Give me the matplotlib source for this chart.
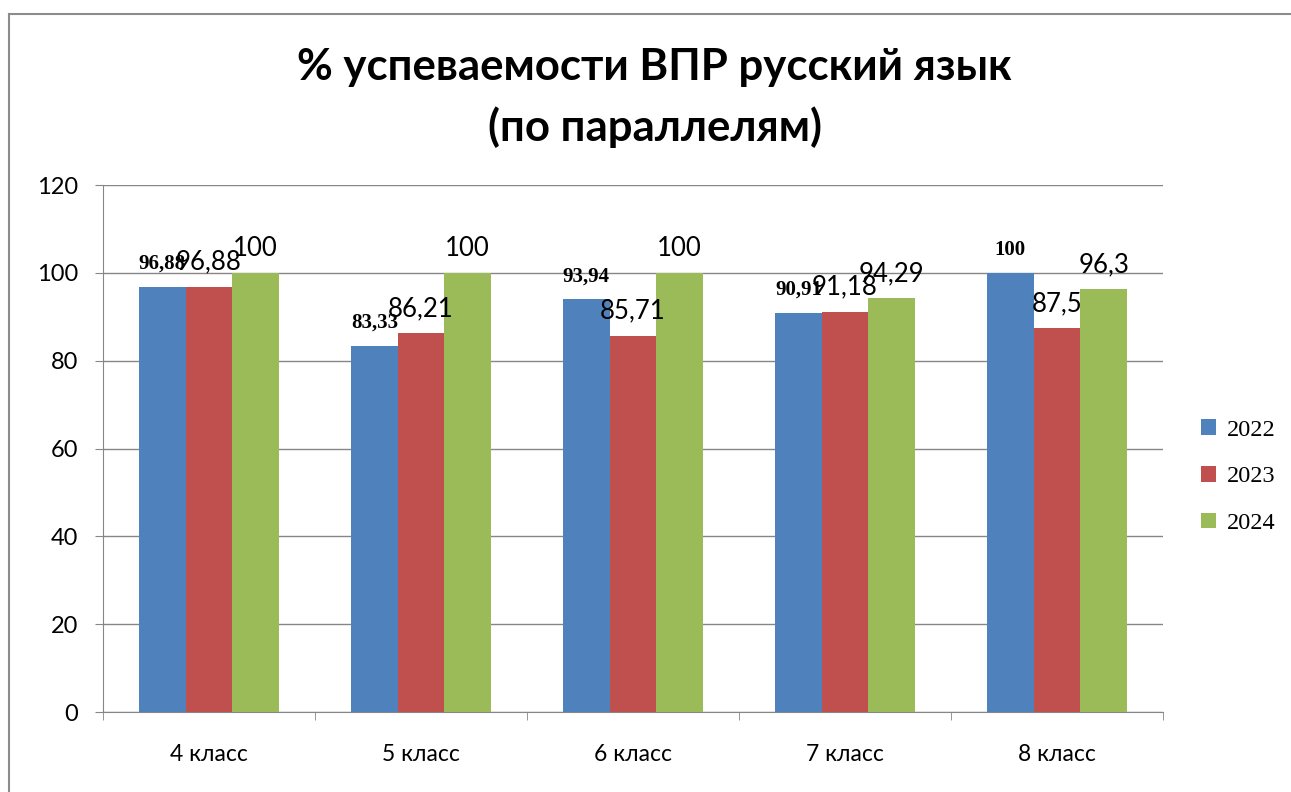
import matplotlib.pyplot as plt
import numpy as np
from matplotlib.lines import Line2D
from matplotlib.patches import Patch

categories = ["4 класс", "5 класс", "6 класс", "7 класс", "8 класс"]
years = ["2022", "2023", "2024"]
v2022 = [96.88, 83.33, 93.94, 90.91, 100]
v2023 = [96.88, 86.21, 85.71, 91.18, 87.5]
v2024 = [100, 100, 100, 94.29, 96.3]
colors = ["#4F81BD", "#C0504D", "#9BBB59"]

def fmt(v):
    # decimal comma, like in the original
    return ("%g" % v).replace(".", ",")

fig = plt.figure(figsize=(12.91, 7.92), dpi=100)
ax = fig.add_axes([0.0798, 0.101, 0.821, 0.6654])

x = np.arange(len(categories))
w = 0.22
series = [v2022, v2023, v2024]
for i, vals in enumerate(series):
    bars = ax.bar(x + (i - 1) * w, vals, w, color=colors[i], zorder=3)
    if i == 0:
        ax.bar_label(bars, labels=[fmt(v) for v in vals], padding=9.5,
                     fontsize=15, fontweight="bold", family="Liberation Serif", zorder=5)
    else:
        ax.bar_label(bars, labels=[fmt(v) for v in vals], padding=8.5,
                     fontsize=18.5, family="Lato", zorder=5)

ax.set_xlim(-0.5, 4.5)
ax.set_ylim(0, 120)
ax.set_yticks(np.arange(0, 121, 20))
ax.grid(axis="y", color="#868686", lw=1, zorder=0)
for s in ["top", "right"]:
    ax.spines[s].set_visible(False)
ax.spines["left"].set_color("#868686")
ax.spines["bottom"].set_color("#868686")

ax.set_xticks(x)
ax.set_xticklabels(categories, family="Lato", fontsize=16.5)
ax.set_xticks(np.arange(-0.5, 5, 1), minor=True)
ax.tick_params(axis="x", which="major", length=0, pad=23)
ax.tick_params(axis="x", which="minor", length=6, color="#868686")
ax.tick_params(axis="y", length=6, color="#868686", pad=12, labelsize=17)
for t in ax.get_yticklabels():
    t.set_family("Lato")

fig.text(0.507, 0.877, "% успеваемости ВПР русский язык\n(по параллелям)",
         ha="center", va="center", fontsize=31.5, fontweight="bold",
         family="Lato", linespacing=1.55)

handles = [Patch(facecolor=c) for c in colors]
fig.legend(handles, years, loc="center", bbox_to_anchor=(0.959, 0.398),
           frameon=False, handlelength=0.6, handleheight=0.6,
           handletextpad=0.45, labelspacing=1.05,
           prop={"family": "Liberation Serif", "size": 17.5})

# outer chart border (left and top only visible)
fig.add_artist(Line2D([0.007, 0.007], [0, 0.982], color="#8c8c8c", lw=1.5))
fig.add_artist(Line2D([0.007, 1], [0.982, 0.982], color="#8c8c8c", lw=1.5))

fig.savefig("out.png", dpi=100)
